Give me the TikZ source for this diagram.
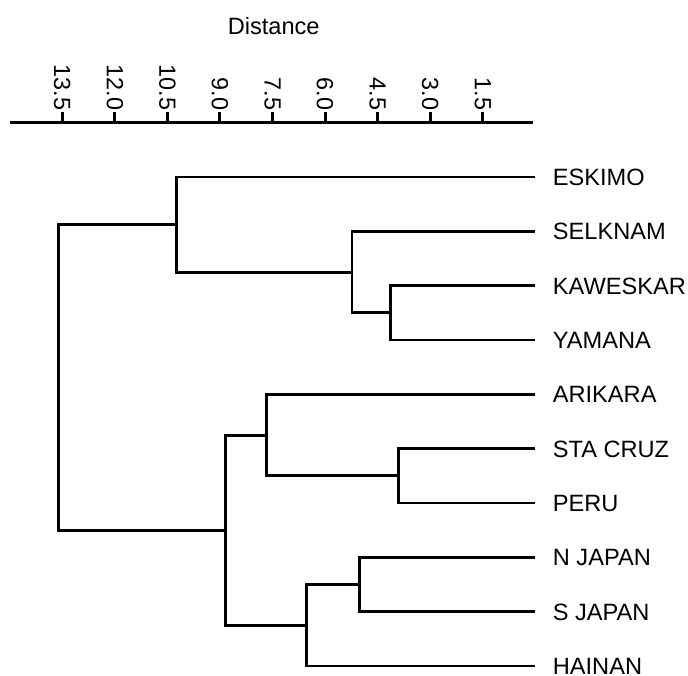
\documentclass[tikz,border=0pt]{standalone}
\usepackage{fontspec}
\setmainfont{Liberation Sans}
\begin{document}
\begin{tikzpicture}[x=1pt,y=-1pt,
  branch/.style={line width=2.8pt, line cap=rect},
  leaflabel/.style={anchor=base west, inner sep=0pt, font=\fontsize{23.6}{27}\selectfont},
  ticklabel/.style={anchor=east, inner sep=0pt, rotate=-90, font=\fontsize{23.4}{27}\selectfont},
  axisline/.style={line width=3pt},
  tickmark/.style={line width=3pt}]
\useasboundingbox (0,0) rectangle (688,675);
% axis title
\node[anchor=base, inner sep=0pt, font=\fontsize{23.6}{27}\selectfont] (title) at (273.7,34.3) {Distance};
% axis
\coordinate (axL) at (10,122.3);
\coordinate (axR) at (533.3,122.3);
\draw[axisline] (axL) -- (axR);
\foreach \lab [count=\i from 0] in {13.5,12.0,10.5,9.0,7.5,6.0,4.5,3.0,1.5}{
  \coordinate (t\i) at ({62.3+52.55*\i},122.3);
  \coordinate (tt\i) at ({62.3+52.55*\i},111.5);
  \draw[tickmark] (t\i) -- (tt\i);
  \node[ticklabel] (tl\i) at ({62.3+52.55*\i},110.5) {\lab};
}
% leaves
\foreach \name [count=\i from 0] in {ESKIMO,SELKNAM,KAWESKAR,YAMANA,ARIKARA,STA CRUZ,PERU,N JAPAN,S JAPAN,HAINAN}{
  \coordinate (L\i) at (533.3,{177+54.33*\i});
  \node[leaflabel] (n\i) at (552.7,{177+54.33*\i+8.4}) {\name};
}
% junctions
\coordinate (kw) at (390.7,312.8);
\coordinate (sk) at (352,272.1);
\coordinate (es) at (176.3,224.5);
\coordinate (sp) at (398.3,475.8);
\coordinate (ar) at (266.7,435.1);
\coordinate (nj) at (359.3,584.5);
\coordinate (ha) at (306.7,625.3);
\coordinate (lo) at (225.5,530.2);
\coordinate (root) at (58.3,377.4);
% branches
\draw[branch] (L2) -- (L2 -| kw) -- (L3 -| kw) -- (L3);
\draw[branch] (L1) -- (L1 -| sk) -- (kw -| sk) -- (kw);
\draw[branch] (L0) -- (L0 -| es) -- (sk -| es) -- (sk);
\draw[branch] (L5) -- (L5 -| sp) -- (L6 -| sp) -- (L6);
\draw[branch] (L4) -- (L4 -| ar) -- (sp -| ar) -- (sp);
\draw[branch] (L7) -- (L7 -| nj) -- (L8 -| nj) -- (L8);
\draw[branch] (nj) -- (nj -| ha) -- (L9 -| ha) -- (L9);
\draw[branch] (ar) -- (ar -| lo) -- (ha -| lo) -- (ha);
\draw[branch] (es) -- (es -| root) -- (lo -| root) -- (lo);
\end{tikzpicture}
\end{document}
